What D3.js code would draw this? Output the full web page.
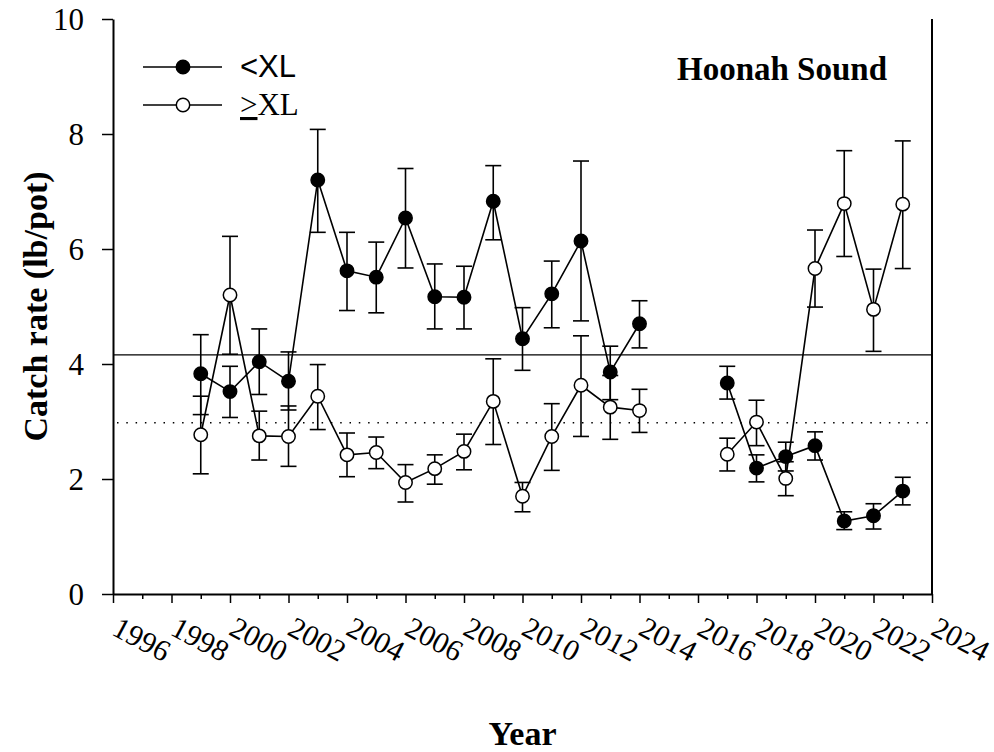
<!DOCTYPE html>
<html>
<head>
<meta charset="utf-8">
<script src="https://cdn.jsdelivr.net/npm/d3@7"></script>
<style>
  body { margin: 0; background: #fff; }
  svg { display: block; }
</style>
</head>
<body>
<svg id="chart"></svg>
<script>
//======= data =======//
let years = [1999, 2000, 2001, 2002, 2003, 2004, 2005, 2006, 2007, 2008, 2009, 2010, 2011, 2012, 2013, 2014,
  2017, 2018, 2019, 2020, 2021, 2022, 2023];

// <XL (filled circles)
let smallMean = [3.83, 3.52, 4.04, 3.70, 7.20, 5.62, 5.51, 6.54, 5.17, 5.16, 6.83, 4.44, 5.22, 6.14, 3.86, 4.70,
  3.67, 2.19, 2.39, 2.58, 1.27, 1.36, 1.79];
let smallLo = [3.12, 3.07, 3.47, 3.20, 6.29, 4.93, 4.89, 5.67, 4.61, 4.61, 6.16, 3.89, 4.63, 4.75, 3.38, 4.28,
  3.39, 1.95, 2.14, 2.33, 1.12, 1.13, 1.55];
let smallHi = [4.51, 3.96, 4.61, 4.21, 8.08, 6.29, 6.12, 7.40, 5.74, 5.70, 7.45, 4.98, 5.79, 7.53, 4.31, 5.10,
  3.96, 2.42, 2.64, 2.82, 1.43, 1.57, 2.03];

// >=XL (open circles)
let largeMean = [2.77, 5.20, 2.75, 2.74, 3.44, 2.42, 2.46, 1.94, 2.18, 2.48, 3.35, 1.70, 2.74, 3.63, 3.25, 3.19,
  2.43, 2.99, 2.01, 5.66, 6.79, 4.95, 6.78];
let largeLo = [2.09, 4.17, 2.33, 2.22, 2.86, 2.04, 2.18, 1.60, 1.91, 2.16, 2.60, 1.43, 2.15, 2.74, 2.69, 2.81,
  2.14, 2.58, 1.71, 4.99, 5.87, 4.22, 5.66];
let largeHi = [3.44, 6.22, 3.18, 3.27, 3.99, 2.80, 2.73, 2.25, 2.42, 2.78, 4.09, 1.94, 3.31, 4.49, 3.80, 3.56,
  2.71, 3.37, 2.30, 6.33, 7.71, 5.65, 7.88];

let meanSmall = 4.16;   // solid reference line
let meanLarge = 2.98;   // dotted reference line

let xTicks = d3.range(1996, 2025);
let xLabels = d3.range(1996, 2025, 2);
let yTicks = [0, 2, 4, 6, 8, 10];

//======= layout =======//
let width = 994;
let height = 752;
let plotLeft = 113, plotRight = 932, plotTop = 19, plotBottom = 594;
let serif = "'Times New Roman', 'Liberation Serif', serif";
let sans = "Arial, 'Liberation Sans', sans-serif";

let svg = d3.select('#chart')
  .attr('width', width)
  .attr('height', height);

let x = d3.scaleLinear().domain([1996, 2024]).range([plotLeft, plotRight]);
let y = d3.scaleLinear().domain([0, 10]).range([plotBottom, plotTop]);

//======= axes =======//
// minor ticks (odd years)
svg.append('g')
  .attr('transform', 'translate(0,' + plotBottom + ')')
  .call(d3.axisBottom(x).tickValues(xTicks.filter(d => d % 2 === 1)).tickSize(5).tickSizeOuter(0).tickFormat(''))
  .call(g => g.select('.domain').remove())
  .selectAll('line').attr('stroke-width', 1.5);

// major ticks with rotated labels
let xAxis = svg.append('g')
  .attr('transform', 'translate(0,' + plotBottom + ')')
  .call(d3.axisBottom(x).tickValues(xLabels).tickSize(9).tickSizeOuter(0).tickFormat(d3.format('d')));
xAxis.select('.domain').attr('stroke-width', 2);
xAxis.selectAll('line').attr('stroke-width', 1.5);
xAxis.selectAll('text')
  .attr('font-family', serif)
  .attr('font-size', 30)
  .attr('fill', '#000')
  .attr('text-anchor', 'start')
  .attr('x', -3)
  .attr('y', 40)
  .attr('dy', 0)
  .attr('transform', 'rotate(28,-3,40)');

let yAxis = svg.append('g')
  .attr('transform', 'translate(' + plotLeft + ',0)')
  .call(d3.axisLeft(y).tickValues(yTicks).tickSize(11).tickSizeOuter(0).tickPadding(18));
yAxis.select('.domain').attr('stroke-width', 2);
yAxis.selectAll('line').attr('stroke-width', 1.5);
yAxis.selectAll('text')
  .attr('font-family', serif)
  .attr('font-size', 31)
  .attr('fill', '#000')
  .attr('dy', '0.34em');

// right frame line
svg.append('line')
  .attr('x1', plotRight).attr('x2', plotRight)
  .attr('y1', plotTop).attr('y2', plotBottom)
  .attr('stroke', '#000')
  .attr('stroke-width', 2);

//======= reference lines =======//
svg.append('line')
  .attr('x1', plotLeft).attr('x2', plotRight)
  .attr('y1', y(meanSmall)).attr('y2', y(meanSmall))
  .attr('stroke', '#000')
  .attr('stroke-width', 1.2);

svg.append('line')
  .attr('x1', plotLeft + 4).attr('x2', plotRight)
  .attr('y1', y(meanLarge)).attr('y2', y(meanLarge))
  .attr('stroke', '#000')
  .attr('stroke-width', 1.5)
  .attr('stroke-dasharray', '1.5,7.8');

//======= series =======//
function makeRows(mean, lo, hi) {
  let rows = [];
  for (let i = 0; i < years.length; i++) {
    if (i > 0 && years[i] - years[i - 1] > 1) rows.push(null);
    rows.push({ year: years[i], mean: mean[i], lo: lo[i], hi: hi[i] });
  }
  return rows;
}

let line = d3.line()
  .defined(d => d !== null)
  .x(d => x(d.year))
  .y(d => y(d.mean));

function drawSeries(rows, fill) {
  let g = svg.append('g');
  let pts = rows.filter(d => d !== null);

  g.append('path')
    .datum(rows)
    .attr('fill', 'none')
    .attr('stroke', '#000')
    .attr('stroke-width', 1.6)
    .attr('d', line);

  let bars = g.selectAll('.bar')
    .data(pts)
    .enter()
    .append('g')
    .attr('class', 'bar');

  bars.append('line')
    .attr('x1', d => x(d.year)).attr('x2', d => x(d.year))
    .attr('y1', d => y(d.lo)).attr('y2', d => y(d.hi))
    .attr('stroke', '#000').attr('stroke-width', 1.6);
  bars.append('line')
    .attr('x1', d => x(d.year) - 8).attr('x2', d => x(d.year) + 8)
    .attr('y1', d => y(d.lo)).attr('y2', d => y(d.lo))
    .attr('stroke', '#000').attr('stroke-width', 1.6);
  bars.append('line')
    .attr('x1', d => x(d.year) - 8).attr('x2', d => x(d.year) + 8)
    .attr('y1', d => y(d.hi)).attr('y2', d => y(d.hi))
    .attr('stroke', '#000').attr('stroke-width', 1.6);

  g.selectAll('circle')
    .data(pts)
    .enter()
    .append('circle')
    .attr('cx', d => x(d.year))
    .attr('cy', d => y(d.mean))
    .attr('r', 6.7)
    .attr('fill', fill)
    .attr('stroke', '#000')
    .attr('stroke-width', 1.5);
}

drawSeries(makeRows(smallMean, smallLo, smallHi), '#000');
drawSeries(makeRows(largeMean, largeLo, largeHi), '#fff');

//======= legend =======//
let legend = [
  { label: '<XL', fill: '#000', y: 67 },
  { label: 'XL', fill: '#fff', y: 105 }
];

legend.forEach(function (d, i) {
  svg.append('line')
    .attr('x1', 143).attr('x2', 222)
    .attr('y1', d.y).attr('y2', d.y)
    .attr('stroke', '#000').attr('stroke-width', 1.6);
  svg.append('circle')
    .attr('cx', 183).attr('cy', d.y).attr('r', 6.7)
    .attr('fill', d.fill).attr('stroke', '#000').attr('stroke-width', 1.5);
});

svg.append('text')
  .attr('x', 240).attr('y', 77)
  .attr('font-family', sans)
  .attr('font-size', 31)
  .text('<XL');

let geText = svg.append('text')
  .attr('x', 240).attr('y', 115)
  .attr('font-family', serif)
  .attr('font-size', 31);
geText.append('tspan')
  .attr('text-decoration', 'underline')
  .text('>');
geText.append('tspan').text('XL');

//======= titles =======//
svg.append('text')
  .attr('x', 677).attr('y', 80)
  .attr('font-family', serif)
  .attr('font-weight', 'bold')
  .attr('font-size', 33)
  .text('Hoonah Sound');

svg.append('text')
  .attr('x', (plotLeft + plotRight) / 2).attr('y', 745)
  .attr('text-anchor', 'middle')
  .attr('font-family', serif)
  .attr('font-weight', 'bold')
  .attr('font-size', 34)
  .text('Year');

svg.append('text')
  .attr('transform', 'translate(47,' + ((plotTop + plotBottom) / 2) + ') rotate(-90)')
  .attr('text-anchor', 'middle')
  .attr('font-family', serif)
  .attr('font-weight', 'bold')
  .attr('font-size', 34)
  .text('Catch rate (lb/pot)');
</script>
</body>
</html>
